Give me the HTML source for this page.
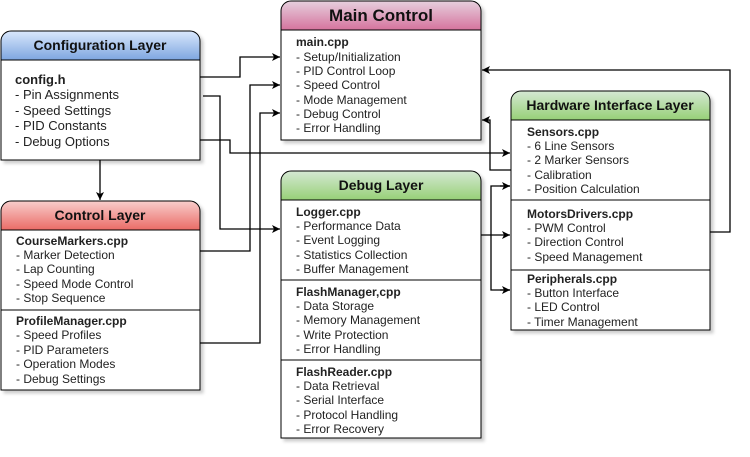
<!DOCTYPE html>
<html><head><style>
body{margin:0;background:#fff;}
svg text{font-family:"Liberation Sans",sans-serif;font-size:12px;fill:#222;}
.t{font-weight:bold;font-size:14px;text-anchor:middle;fill:#111}
.b{font-weight:bold;}
.c{font-size:13px;}
</style></head><body>
<svg width="750" height="452" viewBox="0 0 750 452" xmlns="http://www.w3.org/2000/svg">
<defs>
<linearGradient id="gb" x1="0" y1="0" x2="0" y2="1"><stop offset="0" stop-color="#dae8fc"/><stop offset="1" stop-color="#7ea6e0"/></linearGradient>
<linearGradient id="gr" x1="0" y1="0" x2="0" y2="1"><stop offset="0" stop-color="#f8cecc"/><stop offset="1" stop-color="#ea6b66"/></linearGradient>
<linearGradient id="gp" x1="0" y1="0" x2="0" y2="1"><stop offset="0" stop-color="#e6d0de"/><stop offset="1" stop-color="#d5739d"/></linearGradient>
<linearGradient id="gg" x1="0" y1="0" x2="0" y2="1"><stop offset="0" stop-color="#d5e8d4"/><stop offset="1" stop-color="#97d077"/></linearGradient>
<marker id="a" markerWidth="10" markerHeight="10" refX="8" refY="4" orient="auto" markerUnits="userSpaceOnUse"><path d="M0,0 L8,4 L0,8 L2,4 Z" fill="#000"/></marker>
<filter id="s" x="-5%" y="-5%" width="115%" height="115%"><feDropShadow dx="3" dy="3" stdDeviation="1.5" flood-color="#000" flood-opacity="0.2"/></filter>
</defs>
<g fill="none" stroke="#000" stroke-width="1.3">
<polyline points="200,77 240,77 240,57 280,57" marker-end="url(#a)"/>
<polyline points="203,96 220,96 220,229 280,229" marker-end="url(#a)"/>
<polyline points="200,140 230,140 230,153 510,153" marker-end="url(#a)"/>
<polyline points="100,160 100,200" marker-end="url(#a)"/>
<polyline points="200,251 250,251 250,85 280,85" marker-end="url(#a)"/>
<polyline points="200,343 260,343 260,113 280,113" marker-end="url(#a)"/>
<polyline points="511,170 490,170 490,120 482,120" marker-end="url(#a)"/>
<polyline points="710,232 730,232 730,70 482,70" marker-end="url(#a)"/>
<polyline points="481,235 510,235" marker-end="url(#a)"/>
<polyline points="510,186 491,186 491,290 510,290" />
<polyline points="500,186 510,186" marker-end="url(#a)"/>
<polyline points="500,290 510,290" marker-end="url(#a)"/>
</g>
<!-- Config -->
<g filter="url(#s)">
<path d="M1,60 V41 a10,10 0 0 1 10,-10 H190 a10,10 0 0 1 10,10 V60 Z" fill="url(#gb)" stroke="#000"/>
<rect x="1" y="60" width="199" height="100" fill="#fff" stroke="#000"/>
</g>
<text class="t" x="100" y="50">Configuration Layer</text>
<text x="15" y="84" class="b c">config.h</text>
<text x="15" y="99" class="c">- Pin Assignments</text>
<text x="15" y="115" class="c">- Speed Settings</text>
<text x="15" y="130" class="c">- PID Constants</text>
<text x="15" y="146" class="c">- Debug Options</text>
<!-- Control -->
<g filter="url(#s)">
<path d="M1,230 V211 a10,10 0 0 1 10,-10 H190 a10,10 0 0 1 10,10 V230 Z" fill="url(#gr)" stroke="#000"/>
<rect x="1" y="230" width="199" height="160" fill="#fff" stroke="#000"/>
</g>
<line x1="1" y1="310" x2="200" y2="310" stroke="#000"/>
<text class="t" x="100" y="220">Control Layer</text>
<text x="16" y="245" class="b">CourseMarkers.cpp</text>
<text x="16" y="259">- Marker Detection</text>
<text x="16" y="273">- Lap Counting</text>
<text x="16" y="288">- Speed Mode Control</text>
<text x="16" y="302">- Stop Sequence</text>
<text x="16" y="325" class="b">ProfileManager.cpp</text>
<text x="16" y="339">- Speed Profiles</text>
<text x="16" y="354">- PID Parameters</text>
<text x="16" y="368">- Operation Modes</text>
<text x="16" y="383">- Debug Settings</text>
<!-- Main -->
<g filter="url(#s)">
<path d="M281,30 V11 a10,10 0 0 1 10,-10 H471 a10,10 0 0 1 10,10 V30 Z" fill="url(#gp)" stroke="#000"/>
<rect x="281" y="30" width="200" height="110" fill="#fff" stroke="#000"/>
</g>
<text class="t" x="381" y="21" style="font-size:17px">Main Control</text>
<text x="296" y="46" class="b">main.cpp</text>
<text x="296" y="61">- Setup/Initialization</text>
<text x="296" y="75">- PID Control Loop</text>
<text x="296" y="89">- Speed Control</text>
<text x="296" y="104">- Mode Management</text>
<text x="296" y="118">- Debug Control</text>
<text x="296" y="132">- Error Handling</text>
<!-- Debug -->
<g filter="url(#s)">
<path d="M281,200 V181 a10,10 0 0 1 10,-10 H471 a10,10 0 0 1 10,10 V200 Z" fill="url(#gg)" stroke="#000"/>
<rect x="281" y="200" width="200" height="238" fill="#fff" stroke="#000"/>
</g>
<line x1="281" y1="280" x2="481" y2="280" stroke="#000"/>
<line x1="281" y1="360" x2="481" y2="360" stroke="#000"/>
<text class="t" x="381" y="190">Debug Layer</text>
<text x="296" y="216" class="b">Logger.cpp</text>
<text x="296" y="230">- Performance Data</text>
<text x="296" y="244">- Event Logging</text>
<text x="296" y="259">- Statistics Collection</text>
<text x="296" y="273">- Buffer Management</text>
<text x="296" y="296" class="b">FlashManager,cpp</text>
<text x="296" y="310">- Data Storage</text>
<text x="296" y="324">- Memory Management</text>
<text x="296" y="339">- Write Protection</text>
<text x="296" y="353">- Error Handling</text>
<text x="296" y="376" class="b">FlashReader.cpp</text>
<text x="296" y="390">- Data Retrieval</text>
<text x="296" y="404">- Serial Interface</text>
<text x="296" y="419">- Protocol Handling</text>
<text x="296" y="433">- Error Recovery</text>
<!-- Hardware -->
<g filter="url(#s)">
<path d="M511,120 V101 a10,10 0 0 1 10,-10 H700 a10,10 0 0 1 10,10 V120 Z" fill="url(#gg)" stroke="#000"/>
<rect x="511" y="120" width="199" height="210" fill="#fff" stroke="#000"/>
</g>
<line x1="511" y1="200" x2="710" y2="200" stroke="#000"/>
<line x1="511" y1="270" x2="710" y2="270" stroke="#000"/>
<text class="t" x="610" y="110">Hardware Interface Layer</text>
<text x="527" y="136" class="b">Sensors.cpp</text>
<text x="527" y="150">- 6 Line Sensors</text>
<text x="527" y="164">- 2 Marker Sensors</text>
<text x="527" y="179">- Calibration</text>
<text x="527" y="193">- Position Calculation</text>
<text x="527" y="218" class="b">MotorsDrivers.cpp</text>
<text x="527" y="232">- PWM Control</text>
<text x="527" y="246">- Direction Control</text>
<text x="527" y="261">- Speed Management</text>
<text x="527" y="283" class="b">Peripherals.cpp</text>
<text x="527" y="297">- Button Interface</text>
<text x="527" y="311">- LED Control</text>
<text x="527" y="326">- Timer Management</text>
</svg>
</body></html>
